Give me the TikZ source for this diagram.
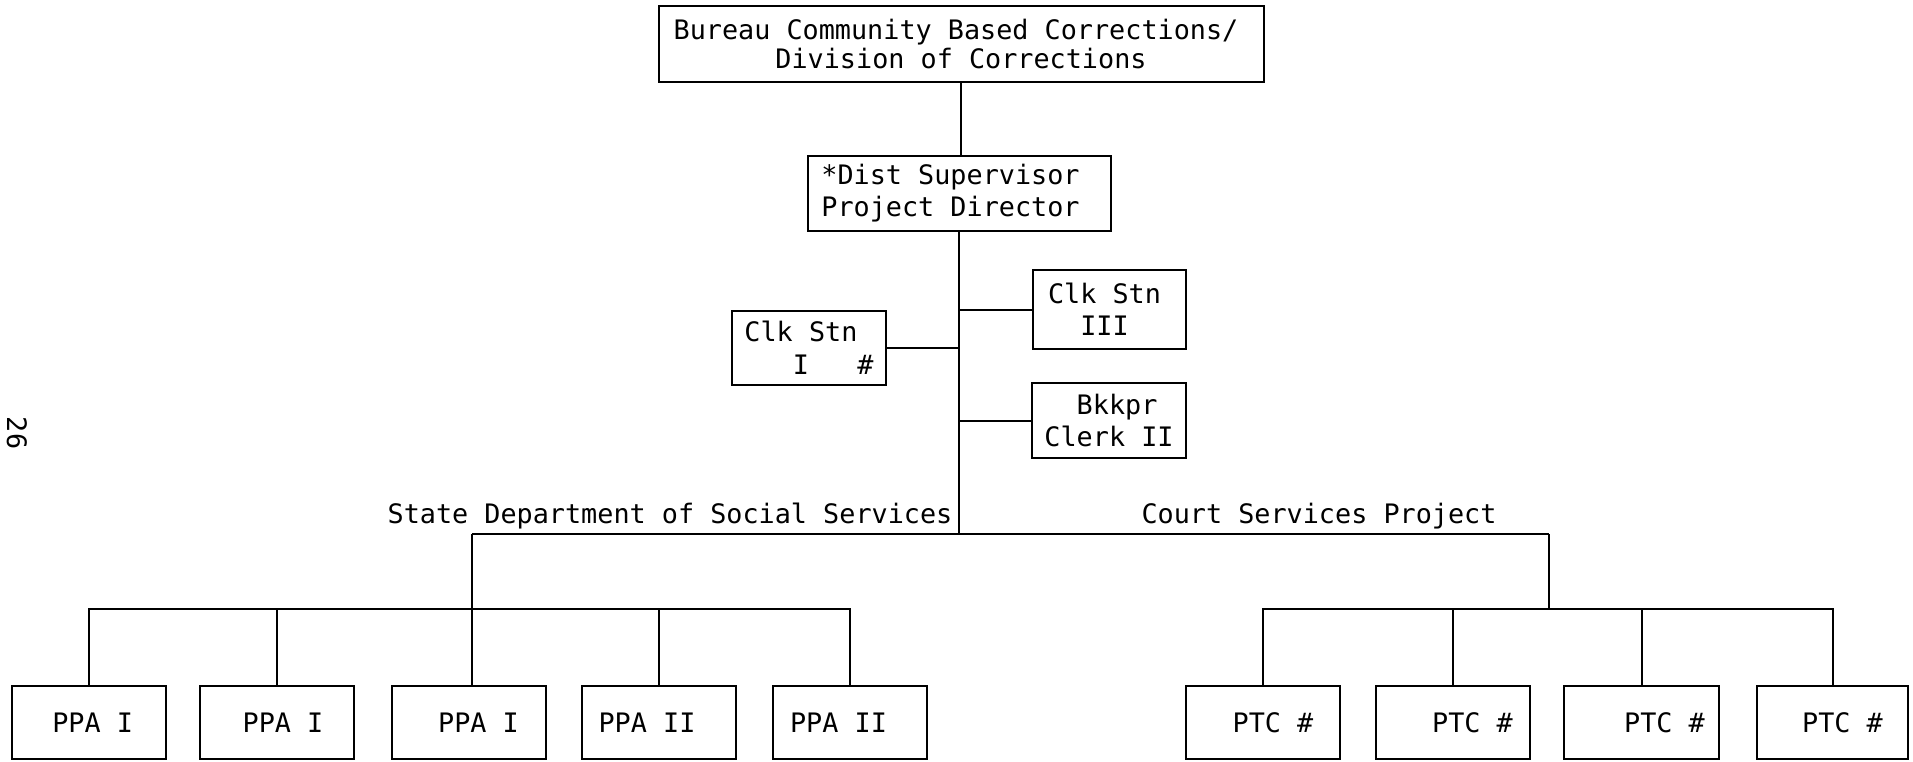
\documentclass[tikz,border=0pt]{standalone}
\usepackage{fontspec}
\newfontfamily\chartfont{DejaVu Sans Mono}
\begin{document}
\begin{tikzpicture}[x=0.5pt,y=-0.5pt,
  chartfont/.style={font={\chartfont\fontsize{13.4pt}{15.8pt}\selectfont}},
  orgbox/.style={draw, line width=1pt, inner sep=0pt, chartfont, align=center},
  staffbox/.style={orgbox, minimum width=77pt, minimum height=37.5pt},
  unitbox/.style={orgbox, minimum width=77pt, minimum height=36.5pt},
  link/.style={line width=1pt},
  caption/.style={inner sep=0pt, chartfont, anchor=base}]

% page frame
\useasboundingbox (0,0) rectangle (1913,761);
\fill[white] (0,0) rectangle (1913,761);

% head office and project director
\node[orgbox, minimum width=302.5pt, minimum height=38pt,
      font={\chartfont\fontsize{13.4pt}{14.6pt}\selectfont}] (bureau) at (961,44)
  {Bureau Community Based Corrections/\rule{5pt}{0pt}\\Division of Corrections};
\node[orgbox, align=left, minimum width=151.5pt, minimum height=37.5pt,
      font={\chartfont\fontsize{13.4pt}{16pt}\selectfont}] (director) at (959,193.5)
  {*Dist Supervisor\rule{8.5pt}{0pt}\\Project Director};

% clerical staff
\node[staffbox, align=left, minimum height=37pt,
      font={\chartfont\fontsize{13.4pt}{16.5pt}\selectfont}] (clkone) at (809,348)
  {Clk Stn\\\hphantom{XXX}I\hphantom{XXX}\#};
\node[staffbox, align=left, minimum width=76.5pt, minimum height=39.5pt] (clkthree) at (1109.5,309.5)
  {Clk Stn\rule{5pt}{0pt}\\\hphantom{XX}III};
\node[staffbox, align=left] (bookkeeper) at (1109,420.5)
  {\hphantom{XX}Bkkpr\\Clerk II};

% programme captions
\node[caption] (sdss) at (670,523) {State Department of Social Services};
\node[caption] (csp) at (1319,523) {Court Services Project};

% probation and parole agents
\node[unitbox] (ppa1) at (89,722.5)   {\rule{3.7pt}{0pt}PPA I};
\node[unitbox] (ppa2) at (277,722.5)  {\rule{6pt}{0pt}PPA I};
\node[unitbox] (ppa3) at (468.5,722.5){\rule{10pt}{0pt}PPA I};
\node[unitbox] (ppa4) at (659,722.5)  {PPA II\rule{12pt}{0pt}};
\node[unitbox] (ppa5) at (849.5,722.5){PPA II\rule{11pt}{0pt}};

% court services staff
\node[unitbox] (ptc1) at (1263,722.5)  {\rule{10pt}{0pt}PTC \#};
\node[unitbox] (ptc2) at (1453,722.5)  {\rule{19.5pt}{0pt}PTC \#};
\node[unitbox, minimum width=77.5pt] (ptc3) at (1641.5,722.5){\rule{23pt}{0pt}PTC \#};
\node[unitbox, minimum width=75.5pt] (ptc4) at (1832.5,722.5){\rule{10pt}{0pt}PTC \#};

% page number in the margin
\node[inner sep=0pt, chartfont, rotate=-90] (pageno) at (17,433) {26};

% junction points
\coordinate (hub) at (959,534);
\coordinate (leftend) at (472,534);
\coordinate (rightend) at (1549,534);
\coordinate (lowbar) at (0,609);

% connectors
\draw[link] (bureau.south) -- (bureau.south |- director.north);
\draw[link] (director.south) -- (hub);
\draw[link] (clkone.east) -- (clkone.east -| director.south);
\draw[link] (clkthree.west) -- (clkthree.west -| director.south);
\draw[link] (bookkeeper.west) -- (bookkeeper.west -| director.south);
\draw[link] (leftend) -- (rightend);

\draw[link] (leftend) -- (leftend |- ppa3.north);
\draw[link] (ppa1.north) -- (ppa1.north |- lowbar) -- (ppa5.north |- lowbar) -- (ppa5.north);
\draw[link] (ppa2.north) -- (ppa2.north |- lowbar);
\draw[link] (ppa4.north) -- (ppa4.north |- lowbar);

\draw[link] (rightend) -- (rightend |- lowbar);
\draw[link] (ptc1.north) -- (ptc1.north |- lowbar) -- (ptc4.north |- lowbar) -- (ptc4.north);
\draw[link] (ptc2.north) -- (ptc2.north |- lowbar);
\draw[link] (ptc3.north) -- (ptc3.north |- lowbar);
\end{tikzpicture}
\end{document}
